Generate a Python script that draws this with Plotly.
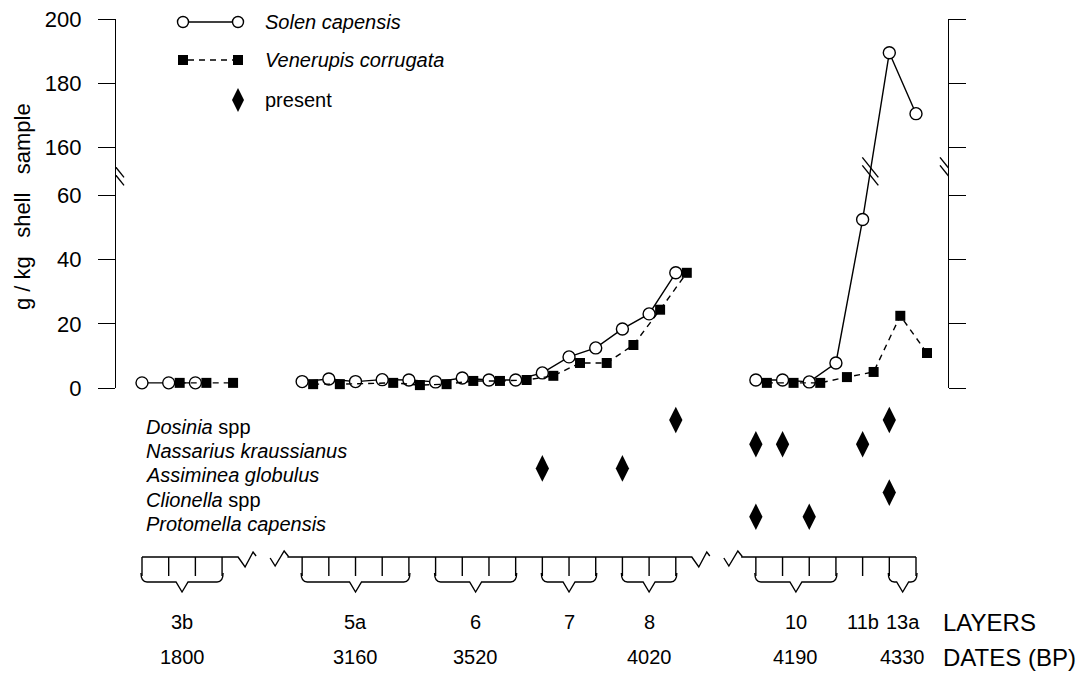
import plotly.graph_objects as go

W, H = 1088, 675
OFF = 8  # page body margin in the browser

# ---------------- data ----------------
layers = ['3b', '5a', '6', '7', '8', '10', '11b', '13a']
dates = ['1800', '3160', '3520', '', '4020', '4190', '', '4330']
samples_per_layer = [4, 5, 4, 3, 3, 4, 1, 2]
segment_of_layer = [0, 1, 1, 1, 1, 2, 2, 2]

# g / kg shell sample, one value per sample (None = not plotted)
solen = [1.6, 1.6, 1.6, None,
         2.0, 2.8, 2.0, 2.6, 2.5,
         1.9, 3.1, 2.5, 2.5,
         4.7, 9.7, 12.5,
         18.4, 23.1, 35.9,
         2.5, 2.5, 1.9, 7.8,
         52.5,
         189.5, 170.5]
venerupis = [None, 1.6, 1.6, 1.6,
             1.2, 1.2, None, 1.6, 0.9,
             1.2, 2.2, 2.2, 2.5,
             3.8, 7.8, 7.8,
             13.4, 24.4, 35.9,
             1.6, 1.6, 1.6, 3.4,
             5.0,
             22.5, 10.9]

species = ['<i>Dosinia</i> spp', '<i>Nassarius kraussianus</i>',
           '<i>Assiminea globulus</i>', '<i>Clionella</i> spp',
           '<i>Protomella capensis</i>']
# sample indices where each species is present
present = [[18, 24], [19, 20, 23], [13, 16], [24], [19, 21]]

y_ticks = [0, 20, 40, 60, 160, 180, 200]
BREAK_LO, BREAK_HI, GAP_DISPLAY = 60, 160, 15


def disp(v):
    if v is None:
        return None
    return v if v <= BREAK_LO else v - (BREAK_HI - BREAK_LO - GAP_DISPLAY)


# ---------------- sample positions ----------------
SEG_GAP = 3
pos, seg_of_sample = [], []
p = None
for li, n in enumerate(samples_per_layer):
    for k in range(n):
        seg = segment_of_layer[li]
        if p is None:
            p = 0
        elif seg != seg_of_sample[-1]:
            p += SEG_GAP
        else:
            p += 1
        pos.append(p)
        seg_of_sample.append(seg)

# ---------------- geometry helpers ----------------
def px(x):
    return (x - OFF) / W


def py(y):
    return 1 - (y - OFF) / H


XD0, XD1 = 116, 948          # plot area left/right (screen pixels)
YD_TOP, YD_BOT = 19, 388     # main plot area top/bottom (screen pixels)
FIRST_PX, LAST_PX = 142, 916
unit = (LAST_PX - FIRST_PX) / (pos[-1] - pos[0])
r0 = pos[0] - (FIRST_PX - XD0) / unit
r1 = r0 + (XD1 - XD0) / unit
DX = 1 / unit  # one pixel in x data units
SQ_OFF = 11 * DX

FONT = 'Liberation Sans, Arial, sans-serif'
LW = 1.4


def build(vals, offset):
    xs, ys = [], []
    last_seg = None
    for i, v in enumerate(vals):
        if v is None:
            continue
        if last_seg is not None and seg_of_sample[i] != last_seg:
            xs.append(None)
            ys.append(None)
        xs.append(pos[i] + offset)
        ys.append(disp(v))
        last_seg = seg_of_sample[i]
    return xs, ys


fig = go.Figure()

sx, sy = build(solen, 0)
fig.add_trace(go.Scatter(
    x=sx, y=sy, mode='lines+markers', name='Solen capensis',
    line=dict(color='black', width=LW),
    marker=dict(symbol='circle', size=12, color='white',
                line=dict(color='black', width=1.4)),
    cliponaxis=False, showlegend=False))

vx, vy = build(venerupis, SQ_OFF)
fig.add_trace(go.Scatter(
    x=vx, y=vy, mode='lines+markers', name='Venerupis corrugata',
    line=dict(color='black', width=LW, dash='6px,5px'),
    marker=dict(symbol='square', size=10, color='black'),
    cliponaxis=False, showlegend=False))

# presence diamonds
dx_, dy_ = [], []
for si, idxs in enumerate(present):
    for i in idxs:
        dx_.append(pos[i])
        dy_.append(si)
fig.add_trace(go.Scatter(
    x=dx_, y=dy_, xaxis='x', yaxis='y2', mode='markers', name='present',
    marker=dict(symbol='diamond-tall', size=19, color='black'),
    cliponaxis=False, showlegend=False))

# ---------------- axes ----------------
ROW0_PX, ROW_STEP = 420, 24.2
Y2_TOP, Y2_BOT = 400, 675
y2_range = [(Y2_BOT - ROW0_PX) / ROW_STEP, (Y2_TOP - ROW0_PX) / ROW_STEP]

fig.update_layout(
    width=W, height=H,
    margin=dict(l=0, r=0, t=0, b=0),
    paper_bgcolor='white', plot_bgcolor='white',
    font=dict(family=FONT, color='black', size=20),
    xaxis=dict(domain=[px(XD0), px(XD1)], range=[r0, r1], visible=False),
    yaxis=dict(domain=[py(YD_BOT), py(YD_TOP)], range=[0, disp(200)],
               tickvals=[disp(t) for t in y_ticks],
               ticktext=[str(t) for t in y_ticks],
               ticks='outside', ticklen=17, tickwidth=LW, tickcolor='black',
               showline=True, linewidth=LW, linecolor='black', mirror='ticks',
               showgrid=False, zeroline=False, automargin=False,
               ticklabeloverflow='allow',
               tickfont=dict(size=22, family=FONT), ticklabelstandoff=12),
    yaxis2=dict(domain=[py(Y2_BOT), py(Y2_TOP)], range=y2_range,
                anchor='x', visible=False, showgrid=False, zeroline=False),
)

shapes = []
annotations = []

# axis-break marks
BREAK_MID = (BREAK_LO + disp(BREAK_HI)) / 2


def break_mark(xanchor, yanchor):
    for off in (4, -4):
        shapes.append(dict(type='line', xref='x', yref='y',
                           xsizemode='pixel', ysizemode='pixel',
                           xanchor=xanchor, yanchor=yanchor,
                           x0=-8, y0=10 + off, x1=8, y1=-10 + off,
                           line=dict(color='black', width=LW)))


break_mark(r0, BREAK_MID)
break_mark(r1, BREAK_MID)
# break on the Solen line where it crosses the gap
for i in range(len(solen) - 1):
    a, b = solen[i], solen[i + 1]
    if a is not None and b is not None and a <= BREAK_LO and b >= BREAK_HI:
        da, db = disp(a), disp(b)
        t = (BREAK_MID - da) / (db - da)
        break_mark(pos[i] + t * (pos[i + 1] - pos[i]), BREAK_MID)

# ---------------- layer brackets ----------------
TOP_Y, TICK_Y, BR_Y, V_Y = 557, 576, 582, 592


def P(x, y):
    return f'{x:.4f},{py(y):.5f}'


seg_first, seg_last = {}, {}
for i, s in enumerate(seg_of_sample):
    seg_first.setdefault(s, pos[i])
    seg_last[s] = pos[i]

start = 0
for li, n in enumerate(samples_per_layer):
    xs = pos[start:start + n]
    start += n
    for x in xs:
        shapes.append(dict(type='line', xref='x', yref='paper',
                           x0=x, x1=x, y0=py(TOP_Y), y1=py(TICK_Y),
                           line=dict(color='black', width=LW)))
    c = (xs[0] + xs[-1]) / 2
    if n > 1:
        a, b = xs[0] - 1 * DX, xs[-1] + 1 * DX
        path = ('M ' + P(a, TICK_Y - 3) + ' Q ' + P(a, BR_Y) + ' ' + P(a + 6 * DX, BR_Y) +
                ' L ' + P(c - 6 * DX, BR_Y) + ' L ' + P(c, V_Y) + ' L ' + P(c + 6 * DX, BR_Y) +
                ' L ' + P(b - 6 * DX, BR_Y) + ' Q ' + P(b, BR_Y) + ' ' + P(b, TICK_Y - 3))
        shapes.append(dict(type='path', xref='x', yref='paper', path=path,
                           line=dict(color='black', width=LW)))
    annotations.append(dict(x=c, y=py(622), xref='x', yref='paper',
                            text=layers[li], showarrow=False,
                            xanchor='center', yanchor='middle',
                            font=dict(size=20)))
    if dates[li]:
        annotations.append(dict(x=c, y=py(657), xref='x', yref='paper',
                                text=dates[li], showarrow=False,
                                xanchor='center', yanchor='middle',
                                font=dict(size=20)))

# top line with zigzag breaks
nseg = max(seg_of_sample) + 1
for s in range(nseg):
    f, l = seg_first[s], seg_last[s]
    parts = []
    if s > 0:
        z = f - 32 * DX
        parts.append('M ' + P(z, TOP_Y + 1))
        parts.append('L ' + P(z + 5 * DX, TOP_Y + 9))
        parts.append('L ' + P(z + 14 * DX, TOP_Y - 6))
        parts.append('L ' + P(z + 18 * DX, TOP_Y - 1))
        parts.append('L ' + P(z + 18 * DX, TOP_Y))
    else:
        parts.append('M ' + P(f, TOP_Y))
    if s < nseg - 1:
        e = l + 16 * DX
        parts.append('L ' + P(e, TOP_Y))
        parts.append('L ' + P(e + 7 * DX, TOP_Y + 10))
        parts.append('L ' + P(e + 15 * DX, TOP_Y - 5))
        parts.append('L ' + P(e + 18 * DX, TOP_Y - 1))
    else:
        parts.append('L ' + P(l, TOP_Y))
    shapes.append(dict(type='path', xref='x', yref='paper', path=' '.join(parts),
                       line=dict(color='black', width=LW)))

for txt, yy in (('LAYERS', 622), ('DATES (BP)', 657)):
    annotations.append(dict(x=px(941), y=py(yy), xref='paper', yref='paper',
                            text=txt, showarrow=False, xanchor='left',
                            yanchor='middle', font=dict(size=24)))

# species labels
for si, name in enumerate(species):
    annotations.append(dict(x=px(144), y=si, xref='paper', yref='y2',
                            text=name, showarrow=False, xanchor='left',
                            yanchor='middle', yshift=-7, font=dict(size=20)))

# y-axis title
annotations.append(dict(x=px(22), y=py(207), xref='paper', yref='paper',
                        text='g / kg\u00a0\u00a0\u00a0shell\u00a0\u00a0\u00a0sample',
                        textangle=-90, xanchor='center', yanchor='middle',
                        showarrow=False, font=dict(size=22)))

# ---------------- legend (drawn) ----------------
LX0, LX1, LTX = 183, 238, 263
ROWS = [22, 60, 100]
shapes.append(dict(type='line', xref='paper', yref='paper',
                   x0=px(LX0 + 6), x1=px(LX1 - 6), y0=py(ROWS[0]), y1=py(ROWS[0]),
                   line=dict(color='black', width=LW)))
for cx in (LX0, LX1):
    shapes.append(dict(type='circle', xref='paper', yref='paper',
                       x0=px(cx - 5.5), x1=px(cx + 5.5),
                       y0=py(ROWS[0] + 5.5), y1=py(ROWS[0] - 5.5),
                       fillcolor='white', line=dict(color='black', width=1.4)))
shapes.append(dict(type='line', xref='paper', yref='paper',
                   x0=px(LX0 + 5), x1=px(LX1 - 5), y0=py(ROWS[1]), y1=py(ROWS[1]),
                   line=dict(color='black', width=LW, dash='6px,5px')))
for cx in (LX0, LX1):
    shapes.append(dict(type='rect', xref='paper', yref='paper',
                       x0=px(cx - 5), x1=px(cx + 5),
                       y0=py(ROWS[1] + 5), y1=py(ROWS[1] - 5),
                       fillcolor='black', line=dict(color='black', width=0)))
dpath = ('M {} {} L {} {} L {} {} L {} {} Z'.format(
    px(LX1), py(ROWS[2] - 12), px(LX1 + 6), py(ROWS[2]),
    px(LX1), py(ROWS[2] + 12), px(LX1 - 6), py(ROWS[2])))
shapes.append(dict(type='path', xref='paper', yref='paper', path=dpath,
                   fillcolor='black', line=dict(color='black', width=0)))
for text, yy in zip(['<i>Solen capensis</i>', '<i>Venerupis corrugata</i>', 'present'], ROWS):
    annotations.append(dict(x=px(LTX), y=py(yy), xref='paper', yref='paper',
                            text=text, showarrow=False, xanchor='left',
                            yanchor='middle', font=dict(size=20)))

fig.update_layout(shapes=shapes, annotations=annotations)
fig.write_html('out.html')
